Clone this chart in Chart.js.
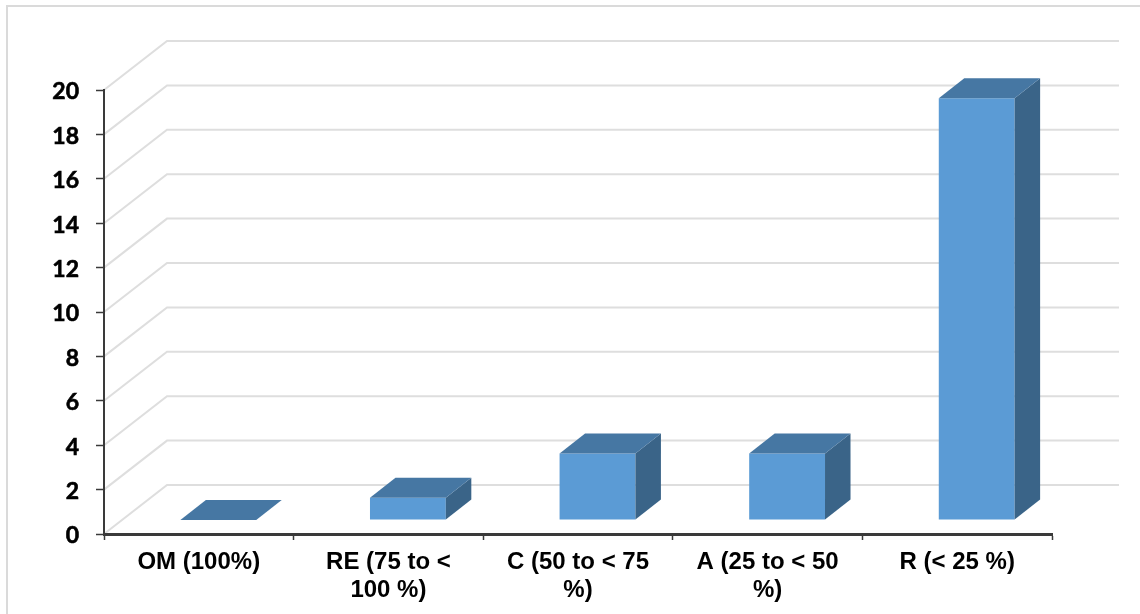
<!DOCTYPE html>
<html><head><meta charset="utf-8">
<style>html,body{margin:0;padding:0;background:#fff}canvas{display:block}</style>
<script src="https://cdn.jsdelivr.net/npm/chart.js@4"></script></head>
<body><canvas id="c" width="1140" height="614"></canvas>
<script>
const categories = [["OM (100%)"],["RE (75 to <","100 %)"],["C (50 to < 75","%)"],["A (25 to < 50","%)"],["R (< 25 %)"]];
const values = [0,1,3,3,19];
const yMin = 0, yMax = 20, yStep = 2;
const frontColor = "#5B9BD5", topColor = "#4677A3", sideColor = "#3A6488", gridColor = "#dedede", axisColor = "#3a3a3a";
const wall = {dx:63, dy:-49, right:1119};
const barShift = {x:19.5, y:-14}, barDepth = {x:25.5, y:-20};

const frame = {id:"frame", beforeDraw(ch){
  const g = ch.ctx; g.save();
  g.fillStyle="#fff"; g.fillRect(0,0,ch.width,ch.height);
  g.strokeStyle="#dadada"; g.lineWidth=2;
  g.beginPath(); g.moveTo(7,ch.height+2); g.lineTo(7,6); g.lineTo(ch.width+2,6); g.stroke();
  const y=ch.scales.y, l=ch.scales.x.left;
  g.strokeStyle=gridColor; g.lineWidth=2;
  y.ticks.forEach(t=>{const p=y.getPixelForValue(t.value);
    g.beginPath(); g.moveTo(l,p); g.lineTo(l+wall.dx,p+wall.dy); g.lineTo(wall.right,p+wall.dy); g.stroke();});
  g.restore();
}};
const box3d = {id:"box3d",
  beforeDatasetsDraw(ch){ ch.ctx.save(); ch.ctx.translate(barShift.x,barShift.y); },
  afterDatasetsDraw(ch){
    const g=ch.ctx;
    ch.getDatasetMeta(0).data.forEach(b=>{
      const l=b.x-b.width/2, r=b.x+b.width/2, t=b.y, bt=b.base, dx=barDepth.x, dy=barDepth.y;
      g.fillStyle=sideColor; g.beginPath(); g.moveTo(r,t); g.lineTo(r+dx,t+dy); g.lineTo(r+dx,bt+dy); g.lineTo(r,bt); g.closePath(); if(bt-t>0.5) g.fill();
      g.fillStyle=topColor; g.beginPath(); g.moveTo(l,t); g.lineTo(l+dx,t+dy); g.lineTo(r+dx,t+dy); g.lineTo(r,t); g.closePath(); g.fill();
    });
    g.restore();
  }};
new Chart(document.getElementById("c"),{
  type:"bar",
  data:{labels:categories,datasets:[{data:values,backgroundColor:frontColor,borderWidth:0,barPercentage:0.4,categoryPercentage:1}]},
  plugins:[frame,box3d],
  options:{
    responsive:false,animation:false,
    layout:{padding:{top:90,right:88,left:0,bottom:0}},
    plugins:{legend:{display:false},tooltip:{enabled:false},title:{display:false}},
    scales:{
      x:{
        afterFit(s){s.height=80;},
        border:{color:axisColor,width:3},
        grid:{drawOnChartArea:false,color:axisColor,tickLength:6,tickWidth:1.5,offset:true},
        ticks:{color:"#000",font:{family:"Liberation Sans",weight:"bold",size:24,lineHeight:1.17},padding:8,maxRotation:0,minRotation:0,autoSkip:false}
      },
      y:{
        min:yMin,max:yMax,
        afterFit(s){s.width=104;},
        border:{color:axisColor,width:2},
        grid:{drawOnChartArea:false,color:axisColor,tickLength:8,tickWidth:1.5},
        ticks:{stepSize:yStep,color:"#000",font:{family:"Lato",weight:"bold",size:23},padding:17,labelOffset:2,textStrokeColor:"#000",textStrokeWidth:0.6}
      }
    }
  }
});
</script></body></html>
